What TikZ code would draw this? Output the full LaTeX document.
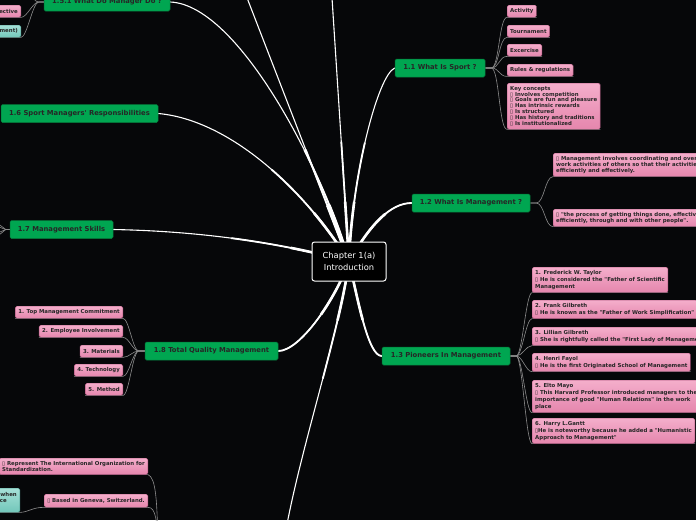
\documentclass[tikz,border=0pt]{standalone}
\usepackage{fontspec}
\newfontfamily\dv{DejaVu Sans}
\pgfdeclarelayer{back}
\pgfdeclarelayer{edges}
\pgfsetlayers{back,edges,main}
\definecolor{bgc}{HTML}{060709}
\definecolor{grn}{HTML}{00A651}
\definecolor{grnb}{HTML}{05773A}
\definecolor{pnk}{HTML}{E586AD}
\definecolor{pnkt}{HTML}{F4AECB}
\definecolor{pnkb}{HTML}{B45A83}
\definecolor{tl}{HTML}{72C7BA}
\definecolor{tlt}{HTML}{A6E0D7}
\definecolor{tlb}{HTML}{4E9E92}
\definecolor{subc}{HTML}{8C8C8C}
\tikzset{
  gnode/.style={draw=grnb, fill=grn, rounded corners=1.5pt, line width=0.5pt,
    font=\dv\bfseries\fontsize{6.8}{8}\selectfont, text=black!85,
    minimum height=18pt, inner xsep=0pt},
  pnode/.style={draw=pnkb, top color=pnkt, bottom color=pnk, rounded corners=1.5pt,
    line width=0.4pt, font=\dv\bfseries\fontsize{5.4}{7}\selectfont, text=black!85,
    inner xsep=3pt, inner ysep=3pt, align=left},
  tnode/.style={pnode, draw=tlb, top color=tlt, bottom color=tl},
  tight/.style={font=\dv\bfseries\fontsize{5.4}{5.9}\selectfont},
  mid/.style={font=\dv\bfseries\fontsize{5.4}{6}\selectfont},
  txt/.style={font=\dv\bfseries\fontsize{5.4}{7}\selectfont, text=black!85, inner sep=0pt},
  cnode/.style={draw=white, fill=black, rounded corners=2.5pt, line width=1pt,
    font=\dv\fontsize{8.3}{12.5}\selectfont, text=white, minimum width=74pt,
    minimum height=39pt, align=center},
  mainedge/.style={draw=white, line cap=round},
  sub/.style={draw=subc, line width=0.6pt}
}
\newcommand\drawmainedges[1]{%
\draw[mainedge,#1] (n151.east) .. controls (240,5) and (325,175) .. (c.center);
\draw[mainedge,#1] (n16.east) .. controls (230,120) and (305,190) .. (c.center);
\draw[mainedge,#1] (n17.east) .. controls (190,231) and (270,240) .. (c.center);
\draw[mainedge,#1] (up1) -- (c.center);
\draw[mainedge,#1] (up2) -- (c.center);
\draw[mainedge,#1] (n11.west) .. controls (378,75) and (352,175) .. (c.center);
\draw[mainedge,#1] (n12.west) .. controls (390,203) and (370,225) .. (c.center);
\draw[mainedge,#1] (n13.west) .. controls (368,356) and (358,300) .. (c.center);
\draw[mainedge,#1] (n18.east) .. controls (300,351) and (335,300) .. (c.center);
\draw[mainedge,#1] (down1) .. controls (300,450) and (340,330) .. (c.center);
}
\begin{document}
\begin{tikzpicture}[x=1pt,y=-1pt]
\useasboundingbox (0,0) rectangle (696,520);
\begin{pgfonlayer}{back}
\fill[bgc] (0,0) rectangle (696,520);
\end{pgfonlayer}

% centre
\node[cnode] (c) at (349,261.5) {Chapter 1(a)\\Introduction};

% main topics
\node[gnode, minimum width=126] (n151) at (107,2) {1.5.1 What Do Manager Do ?};
\node[gnode, minimum width=157] (n16) at (79.5,113.5) {1.6 Sport Managers' Responsibilities};
\node[gnode, minimum width=103] (n17) at (61.5,229.5) {1.7 Management Skills};
\node[gnode, minimum width=90] (n11) at (440,68) {1.1 What Is Sport ?};
\node[gnode, minimum width=118] (n12) at (471,203) {1.2 What Is Management ?};
\node[gnode, minimum width=128] (n13) at (446,356) {1.3 Pioneers In Management};
\node[gnode, minimum width=133] (n18) at (211.5,351) {1.8 Total Quality Management};

\coordinate (up1) at (244,-10);
\coordinate (up2) at (331.5,-10);
\coordinate (down1) at (285,535);

% 1.1 children
\node[pnode, minimum height=12, anchor=north west] (a1) at (507,5) {Activity};
\node[pnode, minimum height=12, anchor=north west] (a2) at (507,25) {Tournament};
\node[pnode, minimum height=12, anchor=north west] (a3) at (507,44) {Excercise};
\node[pnode, minimum height=12, anchor=north west] (a4) at (507,64) {Rules \& regulations};
\node[pnode, tight, anchor=north west] (a5) at (507,83) {Key concepts\\▯ Involves competition\\▯ Goals are fun and pleasure\\▯ Has intrinsic rewards\\▯ Is structured\\▯ Has history and traditions\\▯ Is institutionalized};

% 1.2 children
\node[pnode, mid, anchor=north west] (m1) at (553,153) {▯ Management involves coordinating and overseeing the\\work activities of others so that their activities are completed\\efficiently and effectively.};
\node[pnode, mid, anchor=north west] (m2) at (553,209) {▯ "the process of getting things done, effectively and\\efficiently, through and with other people".};

% 1.3 children
\node[pnode, anchor=north west] (p1) at (532,267) {1. Frederick W. Taylor\\▯ He is considered the "Father of Scientific\\Management};
\node[pnode, anchor=north west] (p2) at (532,300) {2. Frank Gilbreth\\▯ He is known as the "Father of Work Simplification"};
\node[pnode, anchor=north west] (p3) at (532,327) {3. Lillian Gilbreth\\▯ She is rightfully called the "First Lady of Management"};
\node[pnode, anchor=north west] (p4) at (532,353) {4. Henri Fayol\\▯ He is the first Originated School of Management};
\node[pnode, anchor=north west] (p5) at (532,380) {5. Elto Mayo\\▯ This Harvard Professor introduced managers to the\\importance of good "Human Relations" in the work\\place};
\node[pnode, anchor=north west] (p6) at (532,418) {6. Harry L.Gantt\\▯He is noteworthy because he added a "Humanistic\\Approach to Management"};

% 1.8 children
\node[pnode, minimum height=12, anchor=north east] (t1) at (123,306) {1. Top Management Commitment};
\node[pnode, minimum height=12, anchor=north east] (t2) at (123,325) {2. Employee Involvement};
\node[pnode, minimum height=12, anchor=north east] (t3) at (123,345) {3. Materials};
\node[pnode, minimum height=12, anchor=north east] (t4) at (123,364) {4. Technology};
\node[pnode, minimum height=12, anchor=north east] (t5) at (123,383) {5. Method};

% 1.5.1 children
\node[pnode, minimum height=12, text width=40, align=right, anchor=north east] (e1) at (21,5) {ective};
\node[tnode, minimum height=12, text width=40, align=right, anchor=north east] (e2) at (21,25) {ment)};
\coordinate (e0) at (21,-14);

% 1.7 children (off canvas)
\coordinate (l1) at (-12,216);
\coordinate (l2) at (-12,223);
\coordinate (l3) at (-12,237);
\coordinate (l4) at (-12,244);

% ISO group
\coordinate (iso) at (158,545);
\node[pnode, mid, anchor=north east] (r1) at (148,458) {▯ Represent The International Organization for\\Standardization.};
\node[pnode, minimum height=13, anchor=north east] (r2) at (148,494) {▯ Based in Geneva, Switzerland.};
\node[tnode, minimum width=60, minimum height=24, anchor=north east] (r3) at (20,488) {};
\node[txt, anchor=base east] (w1) at (17,496) {when};
\node[txt, anchor=base east] (w2) at (7,502) {ce};

\begin{pgfonlayer}{edges}
% main edges, tapered towards the outer ends
\drawmainedges{line width=1.1pt}
\begin{scope}
\clip (c.center) circle (120);
\drawmainedges{line width=1.8pt}
\end{scope}
\begin{scope}
\clip (c.center) circle (60);
\drawmainedges{line width=2.6pt}
\end{scope}

% 1.1
\foreach \k in {a1,a2,a3,a4,a5}
  \draw[sub] (n11.east) -- ++(6,0) .. controls +(8,0) and +(-8,0) .. (\k.south west) -- (\k.south east);
% 1.2
\foreach \k in {m1,m2}
  \draw[sub] (n12.east) -- ++(6,0) .. controls +(8,0) and +(-8,0) .. (\k.south west) -- (\k.south east);
% 1.3
\foreach \k in {p1,p2,p3,p4,p5,p6}
  \draw[sub] (n13.east) -- ++(6,0) .. controls +(6,0) and +(-6,0) .. (\k.south west) -- (\k.south east);
% 1.8
\foreach \k in {t1,t2,t3,t4,t5}
  \draw[sub] (n18.west) -- ++(-6,0) .. controls +(-6,0) and +(6,0) .. (\k.south east) -- (\k.south west);
% 1.5.1
\foreach \k in {e1,e2}
  \draw[sub] (n151.west) -- ++(-5,0) .. controls +(-6,0) and +(6,0) .. (\k.south east) -- (\k.south west);
\draw[sub] (n151.west) -- ++(-5,0) .. controls +(-6,0) and +(6,0) .. (e0);
% 1.7
\foreach \k in {l1,l2,l3,l4}
  \draw[sub] (n17.west) -- ++(-4,0) -- (\k);
% ISO
\draw[sub] (iso) .. controls (157,500) and (156,478) .. (r1.south east) -- (r1.south west);
\draw[sub] (iso) .. controls (157,522) and (156,507) .. (r2.south east) -- (r2.south west);
\draw[sub] (r2.south west) .. controls (33,507) and (29,512) .. (r3.south east) -- (r3.south west);
\end{pgfonlayer}
\end{tikzpicture}
\end{document}
